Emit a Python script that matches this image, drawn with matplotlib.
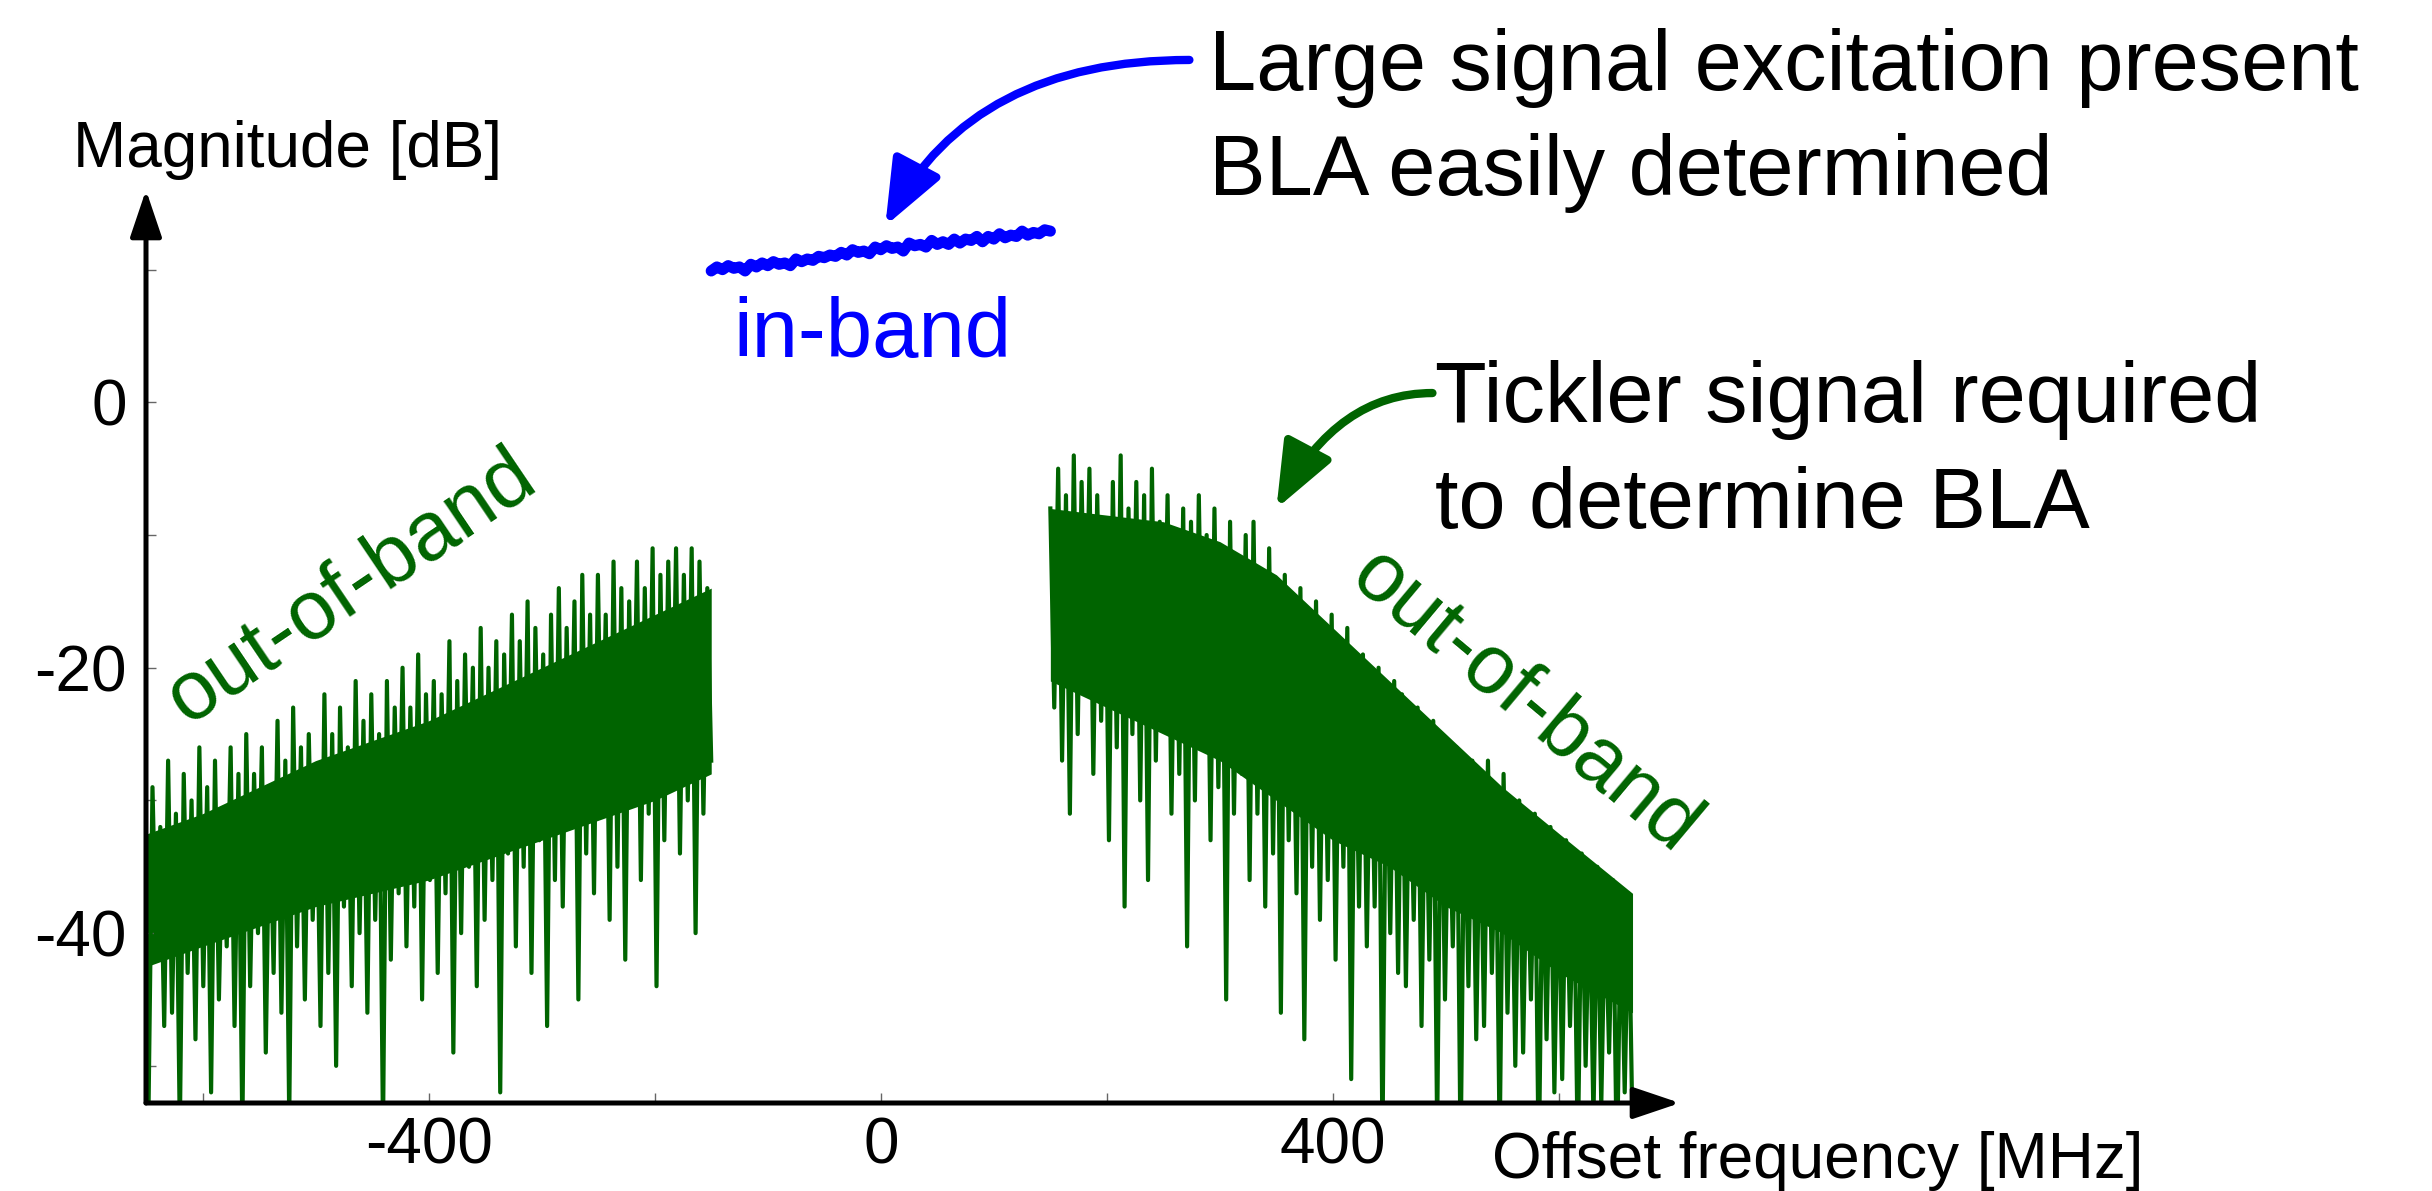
import numpy as np
import matplotlib.pyplot as plt

plt.rcParams['font.family'] = ['Liberation Sans', 'DejaVu Sans']

# magnitude [dB] of the spectrum (alternating peaks / dips)
left_mag = [
    -31, -44, -28, -49, -33, -53, -29, -42, -32, -47,
    -27, -46, -31, -55, -28, -43, -30, -48, -26, -44,
    -29, -52, -27, -45, -31, -41, -26, -47, -28, -55,
    -25, -44, -28, -40, -26, -49, -29, -43, -24, -46,
    -27, -54, -23, -41, -26, -45, -25, -39, -28, -47,
    -22, -43, -25, -50, -23, -38, -26, -44, -21, -40,
    -24, -46, -22, -39, -25, -55, -21, -42, -23, -37,
    -20, -41, -23, -38, -19, -45, -22, -36, -21, -43,
    -22, -37, -18, -49, -21, -40, -19, -35, -20, -44,
    -17, -39, -20, -36, -18, -52, -19, -34, -16, -41,
    -18, -35, -15, -43, -17, -33, -19, -47, -16, -36,
    -14, -38, -17, -32, -15, -45, -13, -34, -16, -37,
    -13, -31, -16, -39, -12, -35, -14, -42, -15, -30,
    -12, -36, -14, -31, -11, -44, -13, -33, -12, -29,
    -11, -34, -13, -30, -11, -40, -12, -31, -14, -27,
]
right_mag = [
    -8, -23, -5, -27, -7, -31, -4, -25, -6, -22,
    -5, -28, -7, -24, -9, -33, -6, -26, -4, -38,
    -8, -25, -6, -30, -7, -36, -5, -27, -9, -24,
    -7, -31, -10, -28, -8, -41, -9, -30, -7, -26,
    -10, -33, -8, -29, -11, -45, -9, -31, -12, -28,
    -10, -36, -9, -31, -13, -38, -11, -34, -14, -46,
    -13, -33, -16, -37, -14, -48, -17, -35, -15, -39,
    -18, -36, -16, -42, -19, -35, -17, -51, -20, -38,
    -19, -41, -21, -38, -20, -56, -22, -40, -21, -43,
    -22, -44, -24, -39, -23, -47, -25, -42, -24, -55,
    -25, -45, -27, -41, -26, -57, -28, -44, -27, -48,
    -29, -47, -27, -43, -30, -56, -28, -46, -31, -50,
    -30, -49, -32, -45, -31, -58, -33, -48, -32, -52,
    -34, -51, -33, -47, -35, -57, -34, -50, -36, -54,
    -35, -53, -37, -49, -36, -58, -38, -52, -37, -55,
]
inband_mag = [
    9.9, 10.2, 10.0, 10.3, 10.1, 10.2, 9.9, 10.4, 10.2, 10.5,
    10.3, 10.6, 10.4, 10.5, 10.3, 10.8, 10.6, 10.8, 10.7, 11.0,
    10.9, 11.1, 11.0, 11.3, 11.1, 11.5, 11.3, 11.4, 11.2, 11.7,
    11.5, 11.8, 11.6, 11.7, 11.4, 12.0, 11.8, 11.9, 11.7, 12.2,
    11.9, 12.1, 11.9, 12.3, 12.0, 12.3, 12.2, 12.5, 12.1, 12.5,
    12.3, 12.7, 12.4, 12.6, 12.5, 12.9, 12.6, 12.8, 12.7, 13.0, 12.9,
]

# dense core of the noise (where the trace is solid)
left_core_f = [-665, -600, -500, -400, -300, -200, -150]
left_core_hi = [-33, -31, -27, -24, -20, -16, -14]
left_core_lo = [-43, -41, -38, -36, -33, -30, -28]
right_core_f = [150, 200, 250, 300, 350, 400, 450, 500, 550, 600, 665]
right_core_hi = [-8, -8.5, -9, -10.5, -13, -17, -21, -25, -29, -32.5, -37]
right_core_lo = [-21, -23, -25, -27, -30, -33, -35, -38, -40, -43, -46]

left_f = np.linspace(-665, -150, len(left_mag))
right_f = np.linspace(150, 665, len(right_mag))
inband_f = np.linspace(-150, 150, len(inband_mag))

green = '#006400'
blue = '#0000ff'

fig = plt.figure(figsize=(24.32, 11.91), dpi=100)
ax = fig.add_axes([146/2432, 1 - 1103/1191, (1680 - 146)/2432, (1103 - 190)/1191])
ax.set_xlim(-650, 707)
ax.set_ylim(-52.8, 16.0)

ax.fill_between(left_core_f, left_core_lo, left_core_hi, color=green, lw=0)
ax.fill_between(right_core_f, right_core_lo, right_core_hi, color=green, lw=0)
ax.plot(left_f, left_mag, color=green, lw=3.0)
ax.plot(right_f, right_mag, color=green, lw=3.0)
ax.plot(inband_f, inband_mag, color=blue, lw=8, solid_capstyle='round',
        solid_joinstyle='round')

ax.set_xticks([-600, -400, -200, 0, 200, 400, 600])
ax.set_xticklabels(['', '-400', '', '0', '', '400', ''])
ax.set_yticks([-50, -40, -30, -20, -10, 0, 10])
ax.set_yticklabels(['', '-40', '', '-20', '', '0', ''])
ax.tick_params(direction='in', length=7, width=1, color='#666666', labelsize=46)
ax.tick_params(axis='x', pad=10)
ax.tick_params(axis='y', pad=14)
for s in ax.spines.values():
    s.set_visible(False)

# axes with arrow heads
axis_arrow = dict(arrowstyle='-|>,head_length=0.4,head_width=0.135', mutation_scale=72,
                  lw=3.6, color='black', shrinkA=0, shrinkB=0)
ax.annotate('', xy=(1, 0), xytext=(0, 0), xycoords='axes fraction',
            textcoords='axes fraction', arrowprops=axis_arrow, zorder=5)
ax.annotate('', xy=(0, 1), xytext=(0, 0), xycoords='axes fraction',
            textcoords='axes fraction', arrowprops=axis_arrow, zorder=5)

fig.text(73/2432, 1 - 167/1191, 'Magnitude [dB]', fontsize=46, va='baseline', ha='left')
fig.text(1492/2432, 1 - 1178/1191, 'Offset frequency [MHz]', fontsize=46, va='baseline', ha='left')

# labels on the curves
ax.text(-7, 3.4, 'in-band', color=blue, fontsize=60, ha='center', va='baseline')
ax.text(-468, -14.0, 'out-of-band', color=green, fontsize=60, ha='center', va='center',
        rotation=34, rotation_mode='anchor')
ax.text(570, -22.6, 'out-of-band', color=green, fontsize=60, ha='center', va='center',
        rotation=-40, rotation_mode='anchor')

# annotations
ax.text(290, 23.5, 'Large signal excitation present', fontsize=61, ha='left', va='baseline', clip_on=False)
ax.text(290, 15.6, 'BLA easily determined', fontsize=61, ha='left', va='baseline', clip_on=False)
ax.text(490, -1.5, 'Tickler signal required', fontsize=61, ha='left', va='baseline')
ax.text(490, -9.5, 'to determine BLA', fontsize=61, ha='left', va='baseline')

ax.annotate('', xy=(4, 13.3), xytext=(273, 25.8), annotation_clip=False,
            arrowprops=dict(arrowstyle='-|>,head_length=1.0,head_width=0.4', mutation_scale=40,
                            lw=6, color=blue, shrinkA=0, shrinkB=0,
                            connectionstyle='angle3,angleA=0,angleB=62'))
ax.annotate('', xy=(350, -8.0), xytext=(488, 0.7), annotation_clip=False,
            arrowprops=dict(arrowstyle='-|>,head_length=1.0,head_width=0.4', mutation_scale=40,
                            lw=6, color=green, shrinkA=0, shrinkB=0,
                            connectionstyle='angle3,angleA=0,angleB=62'))

fig.savefig('out.png', dpi=100)
